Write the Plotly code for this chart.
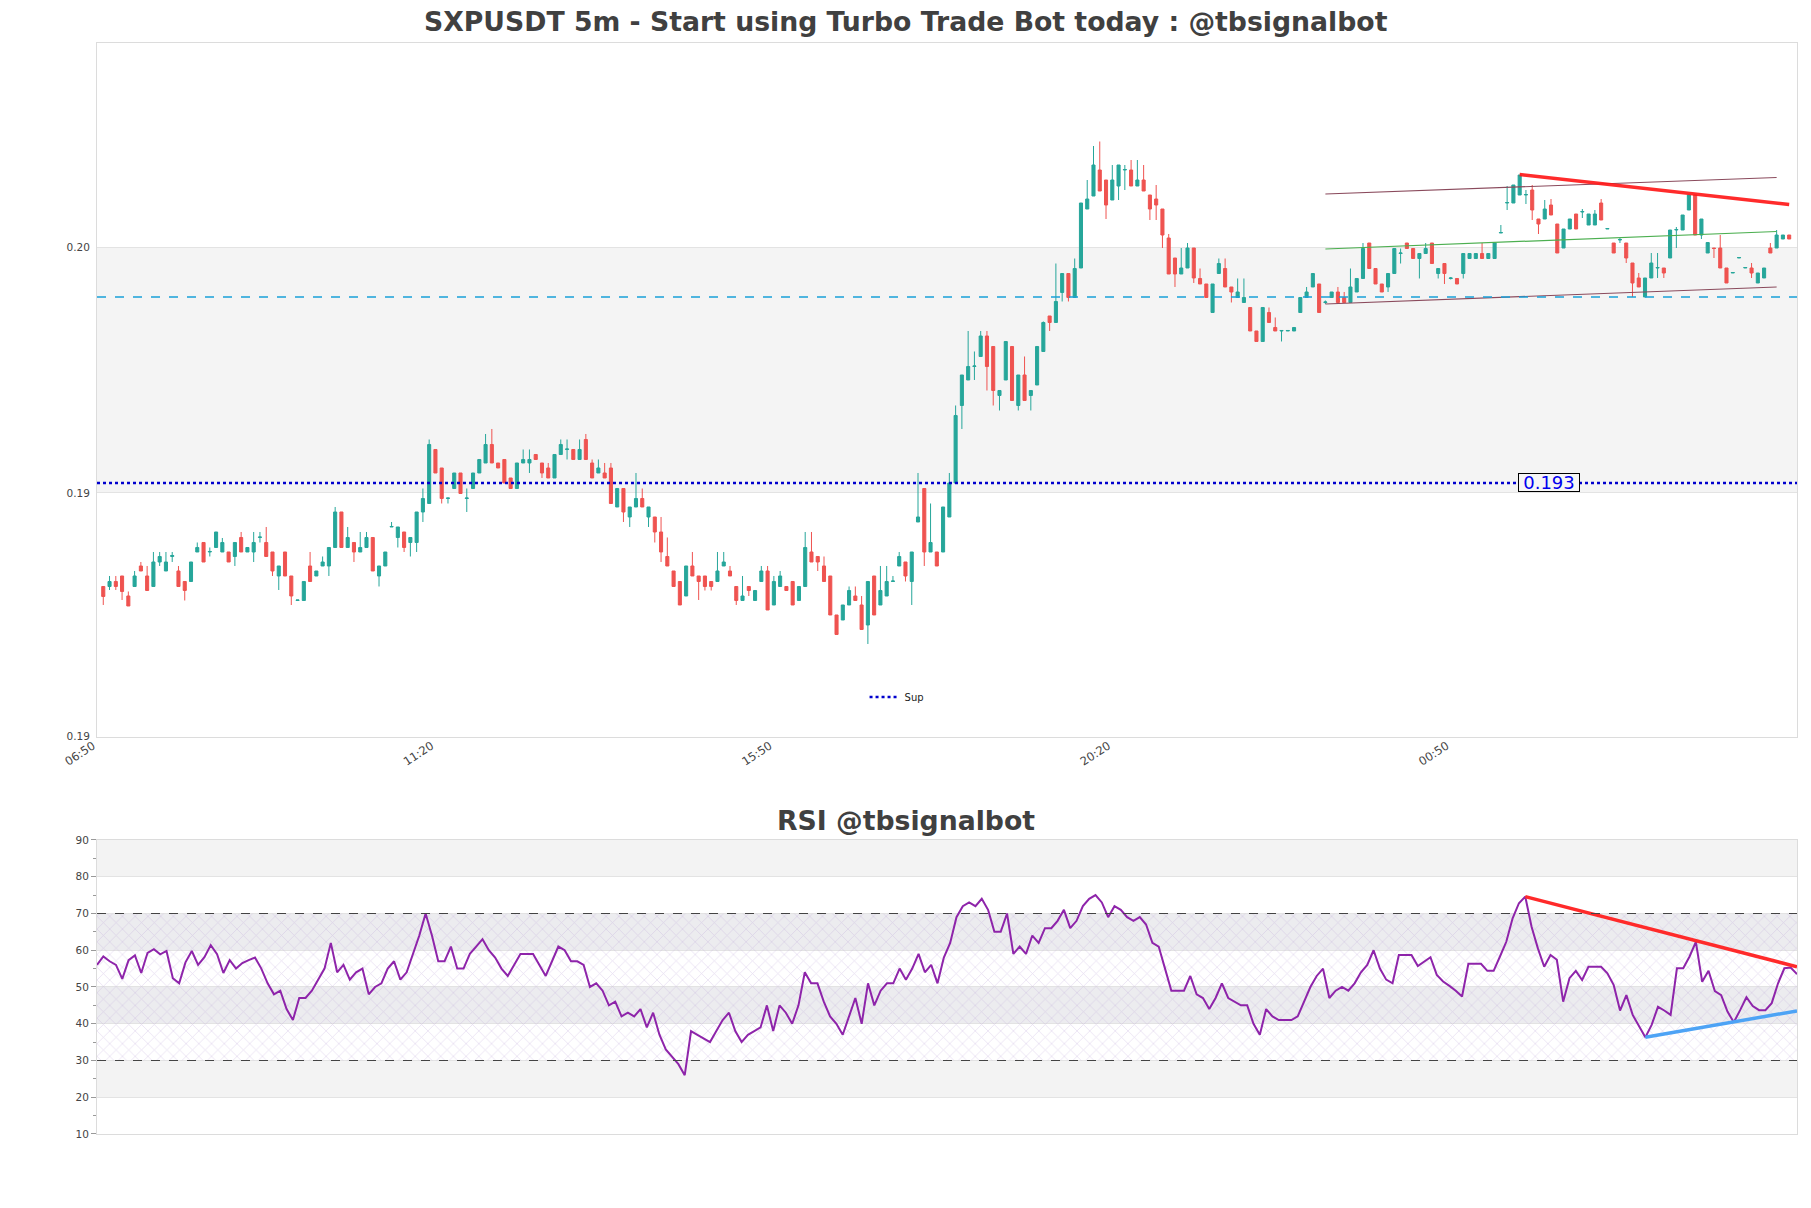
import pandas as pd
import plotly.graph_objects as go

# ---------------- data ----------------
start_time = "2024-05-20 06:55"
n_candles = 270

opens = [0.19093,0.19093,0.19103,0.19114,0.19074,0.19093,0.19134,0.19114,0.19093,0.19142,
0.19124,0.19153,0.19124,0.19103,0.19103,0.19162,0.19181,0.19162,0.19171,0.19162,
0.19162,0.19153,0.19191,0.19162,0.19162,0.19191,0.19181,0.19162,0.19114,0.19162,
0.19114,0.19065,0.19065,0.19134,0.19114,0.19134,0.19134,0.19171,0.19242,0.19171,
0.19181,0.19162,0.19171,0.19191,0.19114,0.19134,0.19212,0.19191,0.19202,0.19181,
0.19181,0.19242,0.19259,0.19367,0.19330,0.19269,0.19289,0.19320,0.19269,0.19289,
0.19320,0.19340,0.19377,0.19340,0.19347,0.19310,0.19289,0.19340,0.19340,0.19357,
0.19340,0.19330,0.19310,0.19357,0.19367,0.19367,0.19347,0.19387,0.19340,0.19320,
0.19320,0.19330,0.19252,0.19289,0.19232,0.19252,0.19269,0.19232,0.19232,0.19202,
0.19153,0.19124,0.19103,0.19074,0.19134,0.19114,0.19114,0.19103,0.19103,0.19134,
0.19124,0.19093,0.19065,0.19093,0.19065,0.19103,0.19124,0.19056,0.19093,0.19093,
0.19103,0.19065,0.19093,0.19162,0.19153,0.19134,0.19114,0.19036,0.19026,0.19056,
0.19074,0.19056,0.19016,0.19114,0.19056,0.19074,0.19103,0.19134,0.19142,0.19103,
0.19222,0.19289,0.19162,0.19162,0.19162,0.19232,0.19300,0.19455,0.19506,0.19533,
0.19553,0.19594,0.19573,0.19475,0.19506,0.19573,0.19455,0.19516,0.19475,0.19496,
0.19563,0.19634,0.19621,0.19681,0.19719,0.19671,0.19730,0.19848,0.19874,0.19926,
0.19906,0.19866,0.19894,0.19926,0.19926,0.19894,0.19906,0.19876,0.19868,0.19848,
0.19790,0.19750,0.19718,0.19730,0.19770,0.19709,0.19698,0.19641,0.19719,0.19729,
0.19692,0.19671,0.19661,0.19651,0.19604,0.19583,0.19641,0.19611,0.19604,0.19604,
0.19604,0.19641,0.19671,0.19692,0.19698,0.19661,0.19671,0.19682,0.19671,0.19661,
0.19682,0.19709,0.19780,0.19729,0.19698,0.19692,0.19719,0.19759,0.19780,0.19769,
0.19749,0.19759,0.19780,0.19719,0.19739,0.19709,0.19709,0.19719,0.19749,0.19749,
0.19759,0.19749,0.19749,0.19800,0.19860,0.19860,0.19876,0.19876,0.19886,0.19828,
0.19828,0.19856,0.19818,0.19770,0.19808,0.19838,0.19842,0.19816,0.19816,0.19860,
0.19808,0.19780,0.19786,0.19780,0.19740,0.19710,0.19672,0.19710,0.19730,0.19730,
0.19750,0.19806,0.19806,0.19846,0.19876,0.19796,0.19760,0.19770,0.19770,0.19730,
0.19720,0.19750,0.19730,0.19730,0.19700,0.19710,0.19770,0.19770,0.19788,0.19796]

highs = [0.19093,0.19114,0.19114,0.19114,0.19083,0.19124,0.19142,0.19134,0.19162,0.19162,
0.19162,0.19162,0.19134,0.19103,0.19142,0.19181,0.19181,0.19171,0.19202,0.19190,
0.19162,0.19181,0.19202,0.19171,0.19202,0.19202,0.19212,0.19162,0.19134,0.19162,
0.19114,0.19066,0.19103,0.19162,0.19124,0.19153,0.19171,0.19252,0.19242,0.19212,
0.19181,0.19202,0.19202,0.19191,0.19134,0.19162,0.19222,0.19212,0.19202,0.19191,
0.19242,0.19289,0.19387,0.19367,0.19330,0.19270,0.19320,0.19320,0.19289,0.19320,
0.19347,0.19398,0.19408,0.19340,0.19347,0.19310,0.19340,0.19367,0.19367,0.19357,
0.19340,0.19340,0.19357,0.19387,0.19387,0.19367,0.19387,0.19398,0.19347,0.19347,
0.19340,0.19340,0.19289,0.19289,0.19252,0.19320,0.19289,0.19252,0.19232,0.19232,
0.19191,0.19124,0.19103,0.19134,0.19162,0.19114,0.19114,0.19103,0.19162,0.19162,
0.19134,0.19093,0.19114,0.19093,0.19085,0.19134,0.19134,0.19114,0.19124,0.19093,
0.19103,0.19093,0.19202,0.19202,0.19153,0.19153,0.19114,0.19036,0.19056,0.19093,
0.19093,0.19074,0.19103,0.19114,0.19134,0.19134,0.19114,0.19162,0.19142,0.19162,
0.19320,0.19289,0.19259,0.19162,0.19252,0.19320,0.19455,0.19516,0.19604,0.19563,
0.19604,0.19604,0.19573,0.19485,0.19583,0.19573,0.19516,0.19553,0.19485,0.19573,
0.19623,0.19634,0.19739,0.19719,0.19719,0.19749,0.19860,0.19906,0.19974,0.19983,
0.19906,0.19936,0.19936,0.19936,0.19946,0.19946,0.19936,0.19876,0.19896,0.19848,
0.19798,0.19750,0.19770,0.19780,0.19770,0.19729,0.19698,0.19698,0.19749,0.19749,
0.19692,0.19709,0.19709,0.19651,0.19604,0.19651,0.19651,0.19631,0.19605,0.19605,
0.19611,0.19671,0.19692,0.19719,0.19698,0.19665,0.19682,0.19692,0.19682,0.19729,
0.19709,0.19780,0.19780,0.19729,0.19698,0.19719,0.19769,0.19769,0.19780,0.19769,
0.19759,0.19780,0.19780,0.19729,0.19739,0.19712,0.19709,0.19759,0.19759,0.19759,
0.19780,0.19759,0.19780,0.19816,0.19894,0.19896,0.19916,0.19886,0.19896,0.19828,
0.19866,0.19868,0.19818,0.19808,0.19828,0.19838,0.19848,0.19838,0.19846,0.19868,
0.19809,0.19780,0.19790,0.19780,0.19740,0.19720,0.19710,0.19760,0.19760,0.19730,
0.19806,0.19812,0.19836,0.19876,0.19876,0.19828,0.19781,0.19770,0.19796,0.19730,
0.19721,0.19751,0.19731,0.19740,0.19720,0.19730,0.19780,0.19806,0.19796,0.19796]

lows = [0.19056,0.19086,0.19086,0.19066,0.19054,0.19093,0.19124,0.19085,0.19093,0.19134,
0.19124,0.19142,0.19093,0.19065,0.19103,0.19162,0.19142,0.19153,0.19171,0.19162,
0.19142,0.19134,0.19162,0.19162,0.19142,0.19181,0.19153,0.19114,0.19086,0.19114,
0.19056,0.19065,0.19065,0.19103,0.19114,0.19134,0.19114,0.19171,0.19171,0.19171,
0.19142,0.19162,0.19171,0.19124,0.19093,0.19134,0.19212,0.19171,0.19162,0.19153,
0.19162,0.19222,0.19259,0.19320,0.19259,0.19259,0.19289,0.19279,0.19242,0.19289,
0.19320,0.19340,0.19340,0.19330,0.19300,0.19289,0.19289,0.19340,0.19320,0.19347,
0.19310,0.19310,0.19310,0.19357,0.19347,0.19347,0.19347,0.19347,0.19310,0.19320,
0.19310,0.19259,0.19252,0.19222,0.19212,0.19252,0.19252,0.19212,0.19181,0.19142,
0.19134,0.19093,0.19056,0.19074,0.19114,0.19066,0.19085,0.19085,0.19103,0.19134,
0.19114,0.19056,0.19065,0.19074,0.19065,0.19103,0.19046,0.19056,0.19093,0.19085,
0.19056,0.19065,0.19093,0.19142,0.19124,0.19103,0.19036,0.18997,0.19026,0.19056,
0.19065,0.19007,0.18978,0.19036,0.19056,0.19074,0.19103,0.19134,0.19103,0.19056,
0.19222,0.19134,0.19162,0.19134,0.19162,0.19232,0.19300,0.19408,0.19506,0.19506,
0.19553,0.19485,0.19455,0.19445,0.19506,0.19465,0.19445,0.19465,0.19445,0.19496,
0.19563,0.19604,0.19621,0.19663,0.19663,0.19671,0.19730,0.19848,0.19874,0.19884,
0.19828,0.19866,0.19866,0.19886,0.19894,0.19894,0.19884,0.19826,0.19826,0.19770,
0.19718,0.19692,0.19718,0.19730,0.19700,0.19698,0.19671,0.19641,0.19719,0.19692,
0.19661,0.19671,0.19661,0.19604,0.19583,0.19583,0.19621,0.19604,0.19583,0.19604,
0.19604,0.19641,0.19671,0.19692,0.19641,0.19658,0.19671,0.19661,0.19661,0.19661,
0.19682,0.19709,0.19729,0.19698,0.19682,0.19682,0.19719,0.19739,0.19769,0.19749,
0.19709,0.19759,0.19739,0.19709,0.19698,0.19707,0.19698,0.19709,0.19749,0.19749,
0.19749,0.19749,0.19749,0.19800,0.19846,0.19860,0.19876,0.19858,0.19826,0.19798,
0.19828,0.19836,0.19760,0.19770,0.19808,0.19808,0.19830,0.19816,0.19816,0.19826,
0.19808,0.19760,0.19780,0.19740,0.19672,0.19692,0.19672,0.19710,0.19710,0.19710,
0.19750,0.19770,0.19806,0.19846,0.19796,0.19788,0.19760,0.19750,0.19730,0.19700,
0.19720,0.19750,0.19730,0.19710,0.19700,0.19710,0.19760,0.19770,0.19788,0.19788]

closes = [0.19073,0.19103,0.19093,0.19083,0.19054,0.19114,0.19124,0.19085,0.19142,0.19153,
0.19142,0.19155,0.19093,0.19085,0.19142,0.19171,0.19142,0.19163,0.19202,0.19181,
0.19142,0.19181,0.19162,0.19171,0.19181,0.19192,0.19153,0.19124,0.19134,0.19114,
0.19074,0.19066,0.19103,0.19103,0.19124,0.19142,0.19171,0.19242,0.19171,0.19191,
0.19162,0.19171,0.19191,0.19124,0.19134,0.19162,0.19213,0.19212,0.19171,0.19191,
0.19242,0.19269,0.19377,0.19320,0.19269,0.19270,0.19320,0.19279,0.19270,0.19320,
0.19347,0.19377,0.19340,0.19330,0.19300,0.19289,0.19340,0.19347,0.19347,0.19347,
0.19320,0.19310,0.19357,0.19377,0.19368,0.19347,0.19367,0.19347,0.19310,0.19330,
0.19310,0.19259,0.19289,0.19242,0.19252,0.19269,0.19252,0.19252,0.19202,0.19162,
0.19134,0.19093,0.19056,0.19134,0.19114,0.19103,0.19093,0.19093,0.19124,0.19142,
0.19114,0.19065,0.19074,0.19085,0.19085,0.19124,0.19046,0.19103,0.19114,0.19085,
0.19056,0.19093,0.19171,0.19142,0.19142,0.19103,0.19036,0.18997,0.19056,0.19085,
0.19065,0.19007,0.19103,0.19036,0.19085,0.19103,0.19104,0.19153,0.19114,0.19162,
0.19232,0.19162,0.19181,0.19134,0.19252,0.19300,0.19435,0.19516,0.19533,0.19534,
0.19594,0.19533,0.19485,0.19485,0.19583,0.19465,0.19516,0.19465,0.19485,0.19573,
0.19621,0.19621,0.19663,0.19719,0.19671,0.19729,0.19860,0.19868,0.19936,0.19884,
0.19856,0.19906,0.19936,0.19927,0.19894,0.19906,0.19884,0.19848,0.19856,0.19796,
0.19718,0.19718,0.19730,0.19770,0.19710,0.19698,0.19671,0.19698,0.19739,0.19692,
0.19682,0.19682,0.19671,0.19604,0.19583,0.19651,0.19621,0.19604,0.19605,0.19605,
0.19611,0.19671,0.19682,0.19719,0.19641,0.19662,0.19682,0.19661,0.19661,0.19692,
0.19709,0.19769,0.19729,0.19698,0.19682,0.19719,0.19769,0.19760,0.19769,0.19749,
0.19759,0.19769,0.19739,0.19729,0.19719,0.19710,0.19698,0.19759,0.19759,0.19759,
0.19749,0.19759,0.19780,0.19801,0.19861,0.19896,0.19916,0.19877,0.19846,0.19818,
0.19848,0.19836,0.19760,0.19808,0.19828,0.19808,0.19843,0.19838,0.19838,0.19826,
0.19809,0.19760,0.19787,0.19750,0.19700,0.19692,0.19710,0.19740,0.19731,0.19720,
0.19806,0.19807,0.19836,0.19876,0.19796,0.19828,0.19781,0.19769,0.19730,0.19700,
0.19721,0.19751,0.19731,0.19720,0.19720,0.19730,0.19760,0.19796,0.19796,0.19788]

rsi = [56,58.3,57,56,52.2,57.3,58.6,53.8,59.3,60.3,58.9,59.8,52.4,51,56.7,59.8,56,58.1,61.4,58.9,
53.8,57.3,55,56.5,57.3,
58,55,51,48,49,44,41,47,47,49,52,55,62,54,56,52,54,55,48,50,
51,55,57,52,54,59,64,70,64,57,57,61,55,55,59,61,63,60,58,55,
53,56,59,59,59,56,53,57,61,60,57,57,56,50,51,49,45,46,42,43,
42,44,39,43,37,33,31,29,26,38,37,36,35,38,41,43,38,35,37,38,
39,45,38,45,43,40,45,54,51,51,46,42,40,37,42,47,
40,51,45,49,51,51,55,52,55,59,54,56,51,58,62,69,72,73,72,74,
71,65,65,70,59,61,59,64,62,66,66,68,71,66,68,72,74,75,73,69,
72,71,69,68,69,67,62,61,55,49,49,49,53,48,47,44,47,51,47,46,
45,45,40,37,44,42,41,41,41,42,46,50,53,55,47,49,50,49,51,54,
56,60,55,52,51,
58.7,58.7,58.7,55.7,57,58.1,53.3,51.5,50.3,49,47.4,56.3,56.3,56.3,54.4,54.4,58.3,62.3,68.7,72.8,
74.6,66.4,60.5,55.5,58.7,57.4,46,52.4,54.4,51.9,55.5,55.5,55.5,53.7,50.5,43.6,47.8,42.4,39.2,36.3,
39.7,44.6,43.6,42.4,55.1,55.1,58.3,62.3,51.4,54.4,48.9,47.8,43.3,40.4,43.7,47.2,44.8,43.7,43.7,45.6,
51,55.1,55.3,53.5]

support_level = 0.19300
support_label = "0.193"
resistance_level = 0.19672          # cyan dashed level
price_tick_vals = [0.18794, 0.19280, 0.19772]
price_tick_text = ["0.19", "0.19", "0.20"]
price_range = [0.18792, 0.20180]
time_tick_text = ["06:50", "11:20", "15:50", "20:20", "00:50"]

# channel / trend lines (candle index, price)
channel_idx = [195, 267]
channel_upper = [0.19878, 0.19911]
channel_mid = [0.19768, 0.19803]
channel_lower = [0.19658, 0.19692]
price_trend_idx = [226, 269]
price_trend = [0.19917, 0.19857]

# RSI trend lines (rsi index, value)
rsi_res_idx = [226, 269]
rsi_res = [74.6, 55.5]
rsi_sup_idx = [245, 269]
rsi_sup = [36.3, 43.5]

# ---------------- figure ----------------
times = pd.date_range(start_time, periods=n_candles, freq="5min")
step = pd.Timedelta(minutes=5)
x_lo = times[0] - step
x_hi = times[-1] + step * 1.25
tick_vals = pd.date_range(x_lo, periods=len(time_tick_text), freq="270min")

FONT = "DejaVu Sans"
GREEN = "#26a69a"
RED = "#ef5350"

fig = go.Figure()

fig.add_trace(go.Candlestick(
    x=times, open=opens, high=highs, low=lows, close=closes,
    increasing=dict(line=dict(color=GREEN, width=1), fillcolor=GREEN),
    decreasing=dict(line=dict(color=RED, width=1), fillcolor=RED),
    whiskerwidth=0, showlegend=False, xaxis="x", yaxis="y", name="price"))

# channel lines
fig.add_trace(go.Scatter(x=[times[i] for i in channel_idx], y=channel_upper, mode="lines",
                         line=dict(color="#8a4a5c", width=1.2), showlegend=False, hoverinfo="skip"))
fig.add_trace(go.Scatter(x=[times[i] for i in channel_idx], y=channel_mid, mode="lines",
                         line=dict(color="#4caf50", width=1.2), showlegend=False, hoverinfo="skip"))
fig.add_trace(go.Scatter(x=[times[i] for i in channel_idx], y=channel_lower, mode="lines",
                         line=dict(color="#8a4a5c", width=1.2), showlegend=False, hoverinfo="skip"))
fig.add_trace(go.Scatter(x=[times[i] for i in price_trend_idx], y=price_trend, mode="lines",
                         line=dict(color="rgba(255,20,20,0.9)", width=3.5), showlegend=False, hoverinfo="skip"))

# support line (legend entry "Sup")
fig.add_trace(go.Scatter(x=[x_lo, x_hi], y=[support_level, support_level], mode="lines",
                         line=dict(color="#0000cd", width=2.5, dash="dot"), name="Sup",
                         showlegend=True, hoverinfo="skip"))

# RSI hatch region
rsi_n = len(rsi)
fig.add_trace(go.Scatter(x=[0, rsi_n - 1, rsi_n - 1, 0, 0], y=[30, 30, 70, 70, 30],
                         fill="toself", mode="none", fillcolor="rgba(0,0,0,0)",
                         fillpattern=dict(shape="x", fgcolor="rgba(185,160,215,0.75)", size=9, solidity=0.15,
                                          bgcolor="rgba(0,0,0,0)"),
                         showlegend=False, hoverinfo="skip", xaxis="x2", yaxis="y2"))
fig.add_trace(go.Scatter(x=list(range(rsi_n)), y=rsi, mode="lines",
                         line=dict(color="#8e24aa", width=2), showlegend=False, xaxis="x2", yaxis="y2"))
fig.add_trace(go.Scatter(x=rsi_res_idx, y=rsi_res, mode="lines",
                         line=dict(color="#ff2a2a", width=3.5), showlegend=False, xaxis="x2", yaxis="y2"))
fig.add_trace(go.Scatter(x=rsi_sup_idx, y=rsi_sup, mode="lines",
                         line=dict(color="#4da3f5", width=3.5), showlegend=False, xaxis="x2", yaxis="y2"))

shapes = []
# price band between inner ticks
shapes.append(dict(type="rect", xref="x domain", yref="y", x0=0, x1=1,
                   y0=price_tick_vals[1], y1=price_tick_vals[2], fillcolor="#f4f4f4",
                   line=dict(width=0), layer="below"))
shapes.append(dict(type="line", xref="x domain", yref="y", x0=0, x1=1,
                   y0=resistance_level, y1=resistance_level,
                   line=dict(color="#18a0d8", width=1.5, dash="dash")))
# RSI bands
for lo, hi, col in [(80, 90, "#f3f3f3"), (60, 70, "#ececef"), (40, 50, "#ececef"), (20, 30, "#f3f3f3")]:
    shapes.append(dict(type="rect", xref="x2 domain", yref="y2", x0=0, x1=1, y0=lo, y1=hi,
                       fillcolor=col, line=dict(width=0), layer="below"))
for lvl in (70, 30):
    shapes.append(dict(type="line", xref="x2 domain", yref="y2", x0=0, x1=1, y0=lvl, y1=lvl,
                       line=dict(color="#444444", width=1.2, dash="dash")))

annotations = [
    dict(text="<b>SXPUSDT 5m - Start using Turbo Trade Bot today : @tbsignalbot</b>",
         xref="paper", yref="paper", x=0.4756, y=1.0195, xanchor="center", yanchor="middle",
         showarrow=False, font=dict(family=FONT, size=26.7, color="#404040")),
    dict(text="<b>RSI @tbsignalbot</b>",
         xref="paper", yref="paper", x=0.4756, y=0.2878, xanchor="center", yanchor="middle",
         showarrow=False, font=dict(family=FONT, size=26.7, color="#404040")),
    dict(text=support_label, xref="paper", yref="y", x=0.854, y=support_level,
         xanchor="center", yanchor="middle", showarrow=False, width=60, height=17,
         font=dict(family=FONT, size=18, color="#0000ee"),
         bgcolor="#f6f6f6", bordercolor="#000000", borderwidth=1, borderpad=0),
]

axis_line = "#dcdcdc"
tick_font = dict(family=FONT, size=10.5, color="#444444")

fig.update_layout(
    width=1811, height=1208,
    margin=dict(l=97, r=14, t=43, b=74),
    paper_bgcolor="white", plot_bgcolor="white",
    font=dict(family=FONT),
    shapes=shapes, annotations=annotations,
    legend=dict(x=0.4515, y=0.4005, xanchor="left", yanchor="middle",
                bgcolor="rgba(0,0,0,0)", font=dict(family=FONT, size=10, color="#222222"),
                itemwidth=30),
    xaxis=dict(domain=[0, 1], anchor="y", type="date", range=[x_lo, x_hi],
               tickvals=list(tick_vals), ticktext=time_tick_text, tickangle=-33,
               tickfont=dict(family=FONT, size=11.5, color="#444444"),
               ticklabelshift=-4, ticklabelstandoff=-3,
               showgrid=False, showline=True, mirror=True,
               linecolor=axis_line, linewidth=1, rangeslider=dict(visible=False), zeroline=False),
    yaxis=dict(domain=[0.3639, 1], anchor="x", range=price_range,
               tickvals=price_tick_vals, ticktext=price_tick_text, tickfont=tick_font,
               ticklabelstandoff=4,
               showgrid=True, gridcolor="#e3e3e3", showline=True, mirror=True,
               linecolor=axis_line, linewidth=1, zeroline=False),
    xaxis2=dict(domain=[0, 1], anchor="y2", range=[0, rsi_n - 1], showticklabels=False,
                showgrid=False, showline=True, mirror=True, linecolor=axis_line, zeroline=False),
    yaxis2=dict(domain=[0, 0.2695], anchor="x2", range=[10, 90], tickvals=list(range(10, 91, 10)),
                tickfont=tick_font, ticks="outside", ticklen=5, tickcolor="#999999",
                minor=dict(ticks="outside", ticklen=3, tickcolor="#999999", dtick=5, tick0=5, showgrid=False),
                showgrid=True, gridcolor="#e3e3e3", showline=True, mirror=True,
                linecolor=axis_line, zeroline=False),
)

fig.write_html("out.html")
